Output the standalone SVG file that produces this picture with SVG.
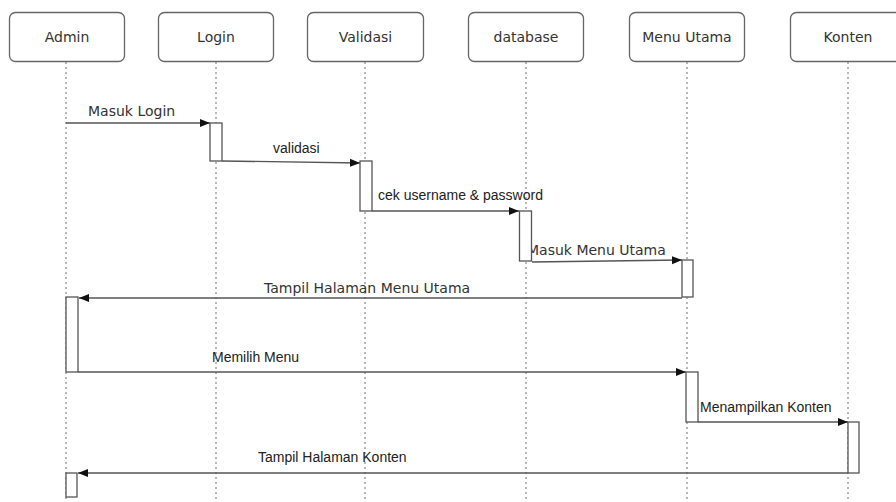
<svg xmlns="http://www.w3.org/2000/svg" width="896" height="502" viewBox="0 0 896 502">
<defs>
<marker id="ah" viewBox="0 0 10 10" refX="10" refY="5" markerWidth="10" markerHeight="10" markerUnits="userSpaceOnUse" orient="auto">
<path d="M0,1 L10,5 L0,9 Z" fill="#111"/>
</marker>
<style>
.hdr{fill:#fff;stroke:#666;stroke-width:1.3}
.ht{font-family:"DejaVu Sans",sans-serif;font-size:14px;fill:#333;text-anchor:middle}
.life{stroke:#888;stroke-width:1.2;stroke-dasharray:2,3;fill:none}
.msg{stroke:#555;stroke-width:1.3;fill:none;marker-end:url(#ah)}
.act{fill:#fff;stroke:#555;stroke-width:1.3}
.ld{font-family:"DejaVu Sans",sans-serif;font-size:14px;fill:#333}
.ll{font-family:"Liberation Sans",Arial,sans-serif;font-size:14px;fill:#222}
</style>
</defs>
<rect width="896" height="502" fill="#fff"/>
<g id="lifelines">
<line class="life" x1="66" y1="62" x2="66" y2="502"/>
<line class="life" x1="216" y1="62" x2="216" y2="502"/>
<line class="life" x1="365" y1="62" x2="365" y2="502"/>
<line class="life" x1="526" y1="62" x2="526" y2="502"/>
<line class="life" x1="687" y1="62" x2="687" y2="502"/>
<line class="life" x1="848" y1="62" x2="848" y2="502"/>
</g>
<g id="admin"><rect class="hdr" x="9.5" y="12.5" width="115" height="49" rx="6"/><text class="ht" x="67" y="42">Admin</text></g>
<g id="login"><rect class="hdr" x="158.5" y="12.5" width="115" height="49" rx="6"/><text class="ht" x="216" y="42">Login</text></g>
<g id="validasi"><rect class="hdr" x="307.5" y="12.5" width="116" height="49" rx="6"/><text class="ht" x="365.5" y="42">Validasi</text></g>
<g id="database"><rect class="hdr" x="468.5" y="12.5" width="115" height="49" rx="6"/><text class="ht" x="526" y="42">database</text></g>
<g id="menu-utama"><rect class="hdr" x="629.5" y="12.5" width="115" height="49" rx="6"/><text class="ht" x="687" y="42">Menu Utama</text></g>
<g id="konten"><rect class="hdr" x="790.5" y="12.5" width="115" height="49" rx="6"/><text class="ht" x="848" y="42">Konten</text></g>
<g id="labels">
<text class="ld" x="88" y="116">Masuk Login</text>
<text class="ll" x="273" y="153" font-size="15">validasi</text>
<text class="ll" x="378" y="200" font-size="14.5">cek username &amp; password</text>
<text class="ld" x="527" y="255">Masuk Menu Utama</text>
<text class="ld" x="264" y="293">Tampil Halaman Menu Utama</text>
<text class="ll" x="212" y="362">Memilih Menu</text>
<text class="ll" x="700" y="412">Menampilkan Konten</text>
<text class="ll" x="258" y="462">Tampil Halaman Konten</text>
</g>
<g id="connectors">
<line class="msg" x1="66" y1="123" x2="210" y2="123"/>
<line class="msg" x1="222" y1="161" x2="360" y2="163"/>
<line class="msg" x1="372" y1="211" x2="519" y2="211"/>
<line class="msg" x1="532" y1="262" x2="682" y2="260"/>
<line class="msg" x1="682" y1="298" x2="79" y2="298"/>
<line class="msg" x1="78" y1="372" x2="686" y2="372"/>
<line class="msg" x1="698" y1="422" x2="848" y2="422"/>
<line class="msg" x1="848" y1="473" x2="78" y2="473"/>
</g>
<g id="activations">
<rect class="act" x="210" y="123" width="12" height="38"/>
<rect class="act" x="360" y="161" width="12" height="50"/>
<rect class="act" x="519.5" y="211" width="12" height="50"/>
<rect class="act" x="682" y="260" width="11" height="37"/>
<rect class="act" x="66" y="297" width="12" height="75"/>
<rect class="act" x="686" y="372" width="12" height="50"/>
<rect class="act" x="848" y="422" width="11" height="51"/>
<rect class="act" x="66" y="473" width="11" height="24"/>
</g>
</svg>
